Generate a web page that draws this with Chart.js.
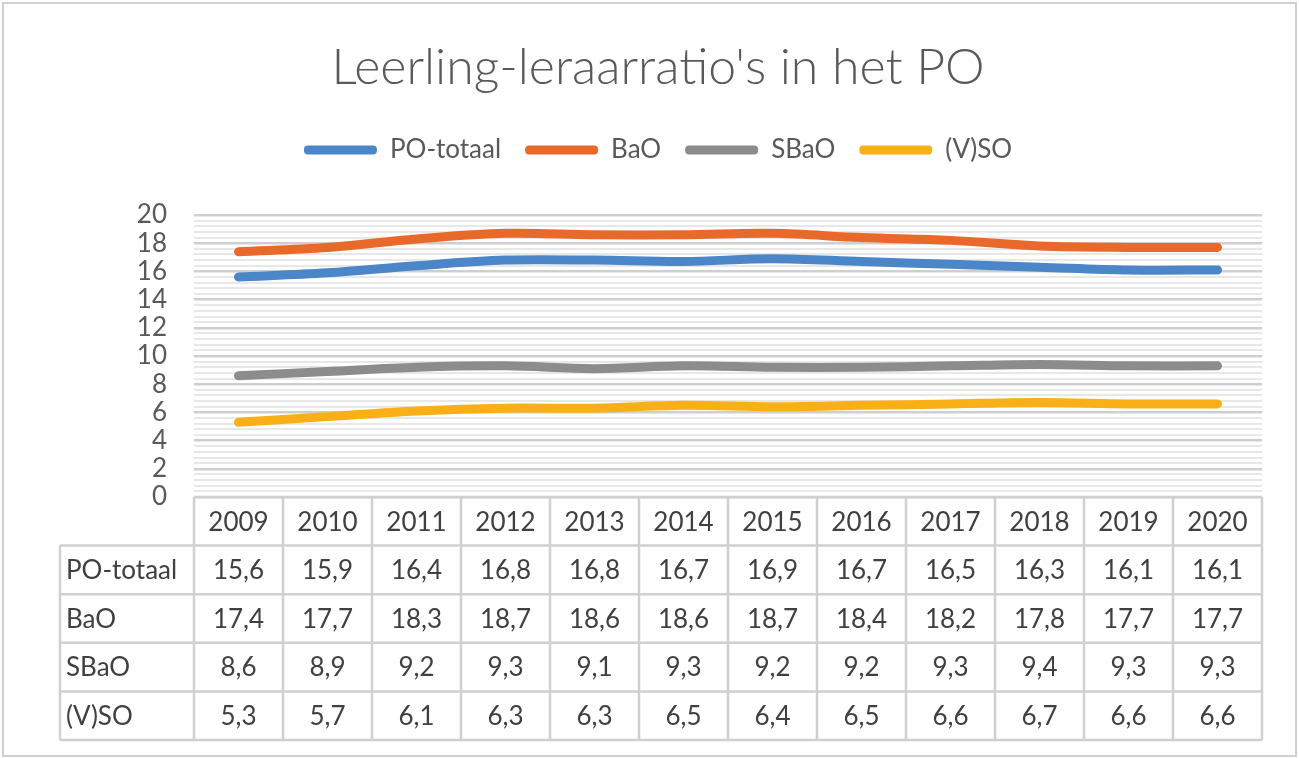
<!DOCTYPE html>
<html>
<head>
<meta charset="utf-8">
<script src="https://cdn.jsdelivr.net/npm/chart.js@4.4.1/dist/chart.umd.min.js"></script>
<style>
  html, body { margin: 0; padding: 0; background: #ffffff; }
  #wrap { position: relative; width: 1299px; height: 758px; }
  canvas { display: block; }
</style>
</head>
<body>
<div id="wrap"><canvas id="chart" width="1299" height="758"></canvas></div>
<script>
// ---- data ----
const years = ['2009', '2010', '2011', '2012', '2013', '2014', '2015', '2016', '2017', '2018', '2019', '2020'];
const poTotaal = [15.6, 15.9, 16.4, 16.8, 16.8, 16.7, 16.9, 16.7, 16.5, 16.3, 16.1, 16.1];
const bao = [17.4, 17.7, 18.3, 18.7, 18.6, 18.6, 18.7, 18.4, 18.2, 17.8, 17.7, 17.7];
const sbao = [8.6, 8.9, 9.2, 9.3, 9.1, 9.3, 9.2, 9.2, 9.3, 9.4, 9.3, 9.3];
const vso = [5.3, 5.7, 6.1, 6.3, 6.3, 6.5, 6.4, 6.5, 6.6, 6.7, 6.6, 6.6];
const seriesNames = ['PO-totaal', 'BaO', 'SBaO', '(V)SO'];
const titleText = "Leerling-leraarratio's in het PO";
const yMin = 0;
const yMax = 20;
const yLabelStep = 2;
const yGridStep = 0.4;

// ---- styles ----
const seriesColors = ['#4A86C8', '#E8692A', '#8C8C8C', '#F9B016'];
const FONT = 'Lato, "Open Sans", "DejaVu Sans", sans-serif';
const TEXT_GRAY = '#595959';
const TABLE_TEXT = '#404040';
const LINE_GRAY = '#d0d0d0';

const seriesValues = [poTotaal, bao, sbao, vso];

const isMajor = v => Math.abs(v / yLabelStep - Math.round(v / yLabelStep)) < 1e-6;
const fmt = v => v.toFixed(1).replace('.', ',');

const tablePlugin = {
  id: 'dataTable',
  afterDraw(chart) {
    const ctx = chart.ctx;
    const xs = chart.scales.x;
    const area = chart.chartArea;
    const colW = xs.width / years.length;
    const rowH = 48.6;
    const top = area.bottom;
    const labelLeft = 60;
    const rows = seriesNames.length;
    const bottom = top + rowH * (rows + 1);

    ctx.save();
    ctx.strokeStyle = LINE_GRAY;
    ctx.lineWidth = 2.5;
    ctx.beginPath();
    ctx.moveTo(area.left, top); ctx.lineTo(area.right, top);
    for (let r = 1; r <= rows + 1; r++) {
      const y = top + r * rowH;
      ctx.moveTo(labelLeft, y); ctx.lineTo(area.right, y);
    }
    for (let i = 0; i <= years.length; i++) {
      const x = i < years.length ? xs.getPixelForValue(i) - colW / 2 : xs.getPixelForValue(years.length - 1) + colW / 2;
      ctx.moveTo(x, top); ctx.lineTo(x, bottom);
    }
    ctx.moveTo(labelLeft, top + rowH); ctx.lineTo(labelLeft, bottom);
    ctx.stroke();

    ctx.fillStyle = TABLE_TEXT;
    ctx.font = '26px ' + FONT;
    ctx.textBaseline = 'middle';
    ctx.textAlign = 'center';
    years.forEach((yr, i) => {
      ctx.fillText(yr, xs.getPixelForValue(i), top + rowH / 2 + 1);
    });
    seriesNames.forEach((name, r) => {
      const cy = top + (r + 1) * rowH + rowH / 2 + 1;
      ctx.textAlign = 'left';
      ctx.fillText(name, labelLeft + 6, cy);
      ctx.textAlign = 'center';
      seriesValues[r].forEach((v, i) => {
        ctx.fillText(fmt(v), xs.getPixelForValue(i), cy);
      });
    });

    ctx.strokeStyle = LINE_GRAY;
    ctx.lineWidth = 2;
    ctx.strokeRect(3, 3, chart.width - 6, chart.height - 5);
    ctx.restore();
  }
};

const ctx = document.getElementById('chart').getContext('2d');
new Chart(ctx, {
  type: 'line',
  data: {
    labels: years,
    datasets: seriesNames.map((name, i) => ({
      label: name,
      data: seriesValues[i],
      borderColor: seriesColors[i],
      backgroundColor: seriesColors[i],
      borderWidth: 9,
      tension: 0.35,
      borderCapStyle: 'round',
      borderJoinStyle: 'round',
      pointRadius: 0,
      pointHoverRadius: 0,
      fill: false,
      yAxisID: 'y'
    }))
  },
  options: {
    responsive: false,
    animation: false,
    devicePixelRatio: 1,
    layout: { padding: { left: 17, right: 0, top: 0, bottom: 261 } },
    plugins: {
      tooltip: { enabled: false },
      title: {
        display: true,
        text: titleText,
        color: TEXT_GRAY,
        font: { family: FONT, size: 50, weight: '300', lineHeight: 1.2 },
        padding: { top: 38, bottom: 15 }
      },
      legend: {
        display: true,
        position: 'top',
        labels: {
          color: TEXT_GRAY,
          font: { family: FONT, size: 26 },
          boxWidth: 73,
          boxHeight: 9,
          padding: 24,
          useBorderRadius: true,
          borderRadius: 4,
          generateLabels(chart) {
            return Chart.defaults.plugins.legend.labels.generateLabels(chart).map(l => Object.assign(l, { lineWidth: 0 }));
          }
        }
      },
      subtitle: {
        display: true,
        text: '',
        weight: 500,
        font: { size: 2, lineHeight: 1 },
        padding: { top: 0, bottom: 40 }
      }
    },
    scales: {
      x: {
        type: 'category',
        display: false,
        offset: true
      },
      y: {
        min: yMin,
        max: yMax,
        afterFit(scale) { scale.width = 177; },
        border: { display: false },
        grid: {
          drawTicks: false,
          color: c => isMajor(c.tick.value) ? '#cfcfcf' : '#e8e8e8',
          lineWidth: c => isMajor(c.tick.value) ? 2.5 : 2
        },
        ticks: {
          stepSize: yGridStep,
          autoSkip: false,
          padding: 27,
          color: TEXT_GRAY,
          font: { family: FONT, size: 26 },
          callback: v => isMajor(v) ? String(Math.round(v)) : ''
        }
      },
      yRight: {
        position: 'right',
        display: true,
        afterFit(scale) { scale.width = 37; },
        border: { display: false },
        grid: { display: false },
        ticks: { display: false }
      }
    }
  },
  plugins: [tablePlugin]
});
</script>
</body>
</html>
